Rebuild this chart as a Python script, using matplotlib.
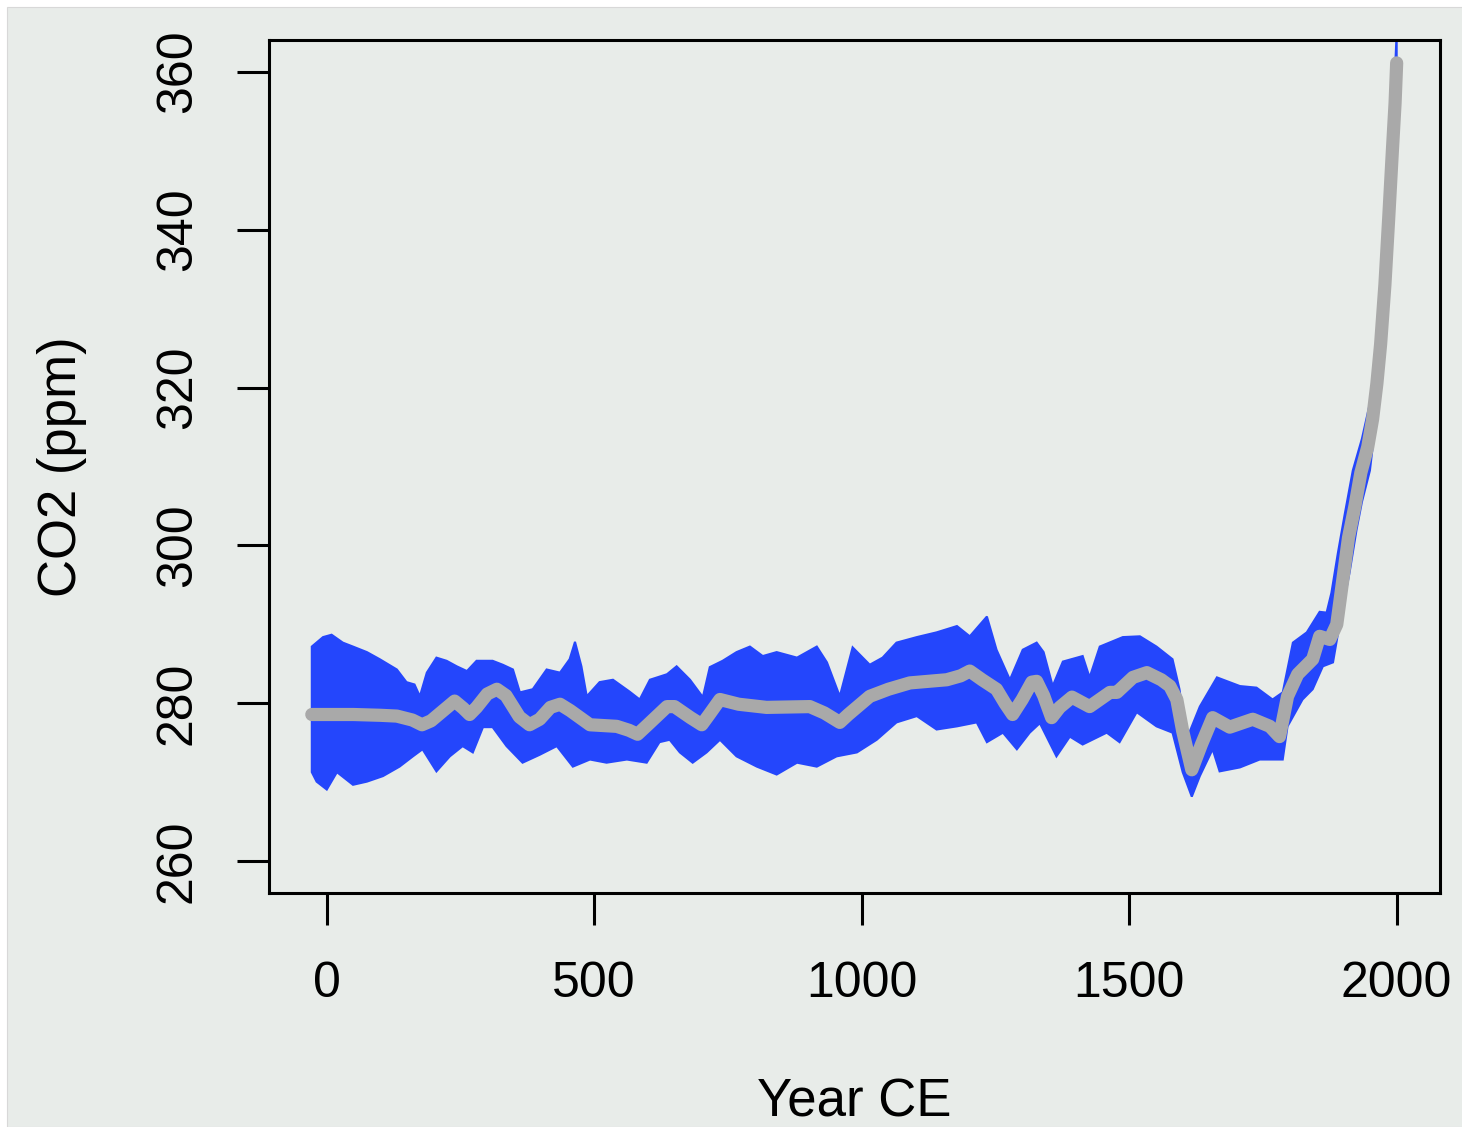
import matplotlib.pyplot as plt
from matplotlib.patches import Rectangle

plt.rcParams['font.family'] = ['Liberation Sans', 'DejaVu Sans']

BG = '#e8ece9'
BLUE = '#2446fc'
GREY = '#a9a9a9'

# smoothed mean (grey line)
mean_year = [-28, 0, 50, 100, 131, 160, 178, 195, 239, 255, 267, 280, 300, 318,
             335, 360, 379, 398, 418, 436, 455, 492, 542, 565, 581, 600, 636, 650,
             680, 701, 715, 735, 770, 822, 903, 930, 959, 975, 1015, 1050, 1090,
             1159, 1185, 1202, 1225, 1252, 1268, 1282, 1300, 1318, 1327, 1340,
             1355, 1370, 1393, 1426, 1464, 1477, 1507, 1533, 1560, 1576, 1589,
             1600, 1617, 1635, 1656, 1688, 1731, 1763, 1781, 1796, 1815, 1843,
             1856, 1875, 1888, 1900, 1910, 1922, 1933, 1946, 1955, 1963, 1970,
             1978, 1985, 1992, 1997, 2000]
mean_co2 = [278.6, 278.6, 278.6, 278.5, 278.4, 277.9, 277.3, 277.8, 280.3, 279.4,
            278.6, 279.5, 281.2, 281.8, 281.0, 278.3, 277.3, 278.0, 279.5, 279.9,
            279.1, 277.3, 277.1, 276.6, 276.1, 277.3, 279.6, 279.6, 278.2, 277.3,
            278.6, 280.5, 279.9, 279.5, 279.6, 278.8, 277.6, 278.6, 280.9, 281.8,
            282.6, 283.0, 283.5, 284.1, 283.0, 281.8, 280.0, 278.6, 280.5, 282.7,
            282.8, 281.0, 278.2, 279.5, 280.8, 279.6, 281.4, 281.4, 283.3, 283.9,
            283.0, 282.2, 280.5, 276.5, 271.6, 274.8, 278.2, 277.0, 278.0, 277.1,
            275.8, 280.9, 283.7, 285.6, 288.5, 288.1, 290.0, 296.0, 301.0, 305.0,
            309.2, 312.5, 316.0, 320.5, 325.5, 333.0, 341.3, 350.0, 356.0, 361.1]

# ensemble envelope (blue band), upper edge
upper_year = [-28, -7, 9, 30, 49, 75, 99, 131, 149, 164, 174, 187, 205, 224, 243,
              262, 280, 310, 329, 348, 361, 385, 411, 436, 454, 464, 476, 486, 510,
              535, 566, 585, 604, 636, 654, 679, 703, 716, 740, 766, 791, 815, 841,
              879, 916, 935, 959, 983, 1015, 1039, 1065, 1103, 1140, 1178, 1202,
              1234, 1252, 1277, 1301, 1327, 1340, 1357, 1376, 1413, 1426, 1445,
              1488, 1520, 1551, 1581, 1594, 1607, 1632, 1664, 1707, 1738, 1768,
              1787, 1806, 1832, 1856, 1869, 1878, 1890, 1903, 1918, 1935, 1950,
              1963, 1974, 1985, 1995, 2000]
upper_co2 = [287.2, 288.4, 288.7, 287.7, 287.2, 286.5, 285.6, 284.3, 282.7, 282.4,
             280.9, 283.9, 285.8, 285.4, 284.7, 284.1, 285.4, 285.4, 284.9, 284.3,
             281.4, 281.8, 284.3, 283.9, 285.6, 287.8, 284.7, 280.9, 282.7, 283.0,
             281.5, 280.5, 283.0, 283.7, 284.7, 283.0, 280.8, 284.6, 285.4, 286.5,
             287.2, 286.0, 286.5, 285.8, 287.2, 285.2, 280.9, 287.1, 284.9, 285.8,
             287.7, 288.4, 289.0, 289.8, 288.5, 291.0, 286.8, 283.0, 286.8, 287.7,
             286.5, 282.2, 285.3, 286.0, 283.3, 287.2, 288.4, 288.5, 287.2, 285.6,
             281.8, 275.4, 279.6, 283.3, 282.2, 282.0, 280.5, 281.4, 287.7, 289.0,
             291.6, 291.5, 294.0, 299.0, 304.0, 309.5, 313.5, 318.0, 324.0, 332.0,
             345.0, 357.0, 365.0]

# ensemble envelope (blue band), lower edge
lower_year = [-28, -19, 0, 19, 49, 75, 105, 136, 161, 179, 205, 230, 254, 273, 292,
              310, 336, 366, 398, 430, 460, 492, 523, 561, 598, 622, 641, 660, 684,
              710, 735, 766, 804, 841, 879, 916, 953, 991, 1028, 1065, 1103, 1140,
              1178, 1215, 1234, 1264, 1290, 1314, 1333, 1364, 1389, 1413, 1458,
              1482, 1514, 1551, 1581, 1600, 1617, 1632, 1656, 1669, 1707, 1744,
              1787, 1796, 1824, 1843, 1862, 1881, 1894, 1912, 1925, 1935, 1950,
              1963, 1976, 1987, 1997, 2000]
lower_co2 = [271.3, 270.1, 269.1, 271.3, 269.7, 270.1, 270.8, 272.0, 273.3, 274.2,
             271.4, 273.3, 274.6, 273.8, 277.0, 277.0, 274.6, 272.5, 273.5, 274.6,
             272.0, 272.9, 272.5, 272.9, 272.5, 275.1, 275.4, 273.8, 272.5, 273.8,
             275.4, 273.3, 272.0, 271.0, 272.5, 272.0, 273.3, 273.8, 275.4, 277.6,
             278.4, 276.7, 277.1, 277.6, 275.1, 276.3, 274.2, 276.3, 277.5, 273.3,
             275.8, 274.8, 276.3, 275.1, 278.9, 277.1, 276.3, 271.3, 268.2, 270.8,
             274.2, 271.4, 271.9, 272.9, 272.9, 277.1, 280.5, 281.8, 284.7, 285.2,
             290.3, 296.6, 302.0, 305.5, 309.5, 317.0, 328.0, 339.0, 353.0, 358.0]

x_ticks = [0, 500, 1000, 1500, 2000]
y_ticks = [260, 280, 300, 320, 340, 360]

fig = plt.figure(figsize=(14.62, 11.27), dpi=100)
fig.patch.set_facecolor('white')
fig.add_artist(Rectangle((7 / 1462, 0), 1, 1 - 7 / 1127, transform=fig.transFigure,
                         facecolor=BG, edgecolor='#d8d8d8', lw=0.8, zorder=-10))

ax = fig.add_axes([269 / 1462, 234 / 1127, 1171 / 1462, 853 / 1127])
ax.set_facecolor(BG)

band_x = upper_year + lower_year[::-1]
band_y = upper_co2 + lower_co2[::-1]
ax.fill(band_x, band_y, facecolor=BLUE, edgecolor=BLUE, lw=1.5, zorder=2)
ax.plot(mean_year, mean_co2, color=GREY, lw=9.5, solid_capstyle='round',
        solid_joinstyle='round', zorder=3)

ax.set_xlim(-108, 2081)
ax.set_ylim(256, 364)
ax.set_xticks(x_ticks)
ax.set_yticks(y_ticks)
ax.tick_params(length=23, width=2.2, labelsize=36, color='black')
ax.tick_params(axis='x', pad=26)
ax.tick_params(axis='y', pad=26)
plt.setp(ax.get_yticklabels(), rotation=90, va='center')
for s in ax.spines.values():
    s.set_linewidth(2.2)

ax.set_xlabel('Year CE', fontsize=38, va='center')
ax.xaxis.set_label_coords(0.5, -0.246)
ax.set_ylabel('CO2 (ppm)', fontsize=38, va='center')
ax.yaxis.set_label_coords(-0.177, 0.5)

fig.savefig('out.png', dpi=100, facecolor=fig.get_facecolor())
